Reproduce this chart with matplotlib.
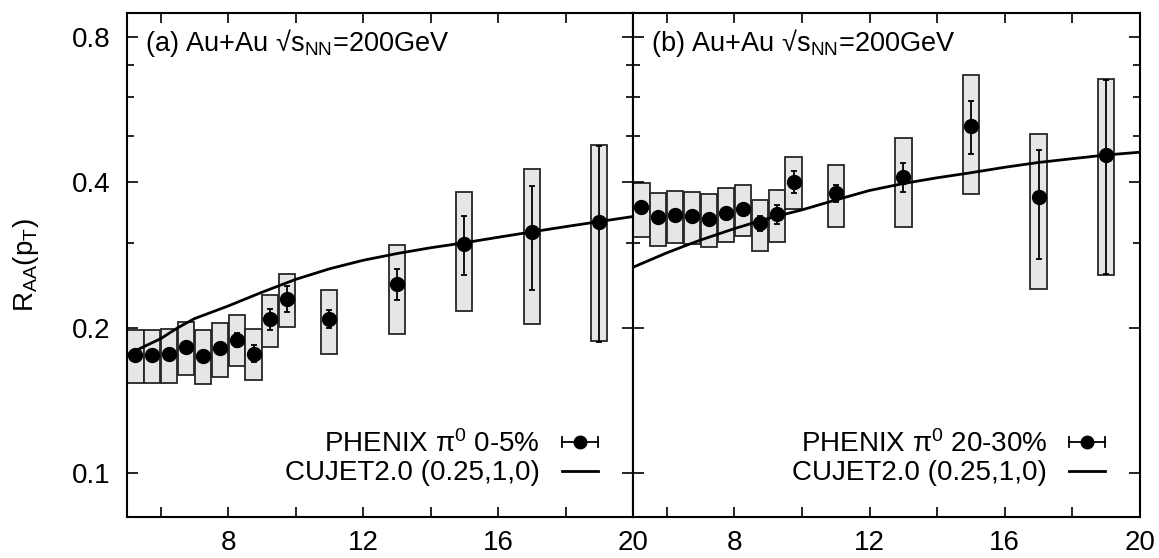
import matplotlib
matplotlib.use("Agg")
import matplotlib.pyplot as plt
import numpy as np
from matplotlib.lines import Line2D
from matplotlib.legend_handler import HandlerBase
from matplotlib.ticker import FixedLocator, NullFormatter, FixedFormatter

plt.rcParams['font.family'] = ['Liberation Sans', 'DejaVu Sans']
plt.rcParams['mathtext.default'] = 'regular'

# ---------------- data ----------------
pt = [5.25, 5.75, 6.25, 6.75, 7.25, 7.75, 8.25, 8.75, 9.25, 9.75, 11, 13, 15, 17, 19]

# (a) PHENIX pi0 0-5%
raa_a = [0.176, 0.176, 0.177, 0.183, 0.175, 0.182, 0.189, 0.177, 0.2085, 0.2296,
         0.2085, 0.2464, 0.299, 0.316, 0.332]
stat_a = [0.004, 0.004, 0.004, 0.004, 0.004, 0.004, 0.006, 0.007, 0.0105, 0.014,
          0.009, 0.0185, 0.042, 0.077, 0.145]
sys_hi_a = [0.198, 0.198, 0.199, 0.206, 0.198, 0.205, 0.213, 0.199, 0.234, 0.2585,
            0.2397, 0.297, 0.383, 0.427, 0.4776]
sys_lo_a = [0.1536, 0.154, 0.154, 0.160, 0.153, 0.158, 0.167, 0.156, 0.183, 0.2004,
            0.177, 0.1945, 0.2163, 0.2037, 0.188]

# (b) PHENIX pi0 20-30%
raa_b = [0.3555, 0.3389, 0.3426, 0.3408, 0.3361, 0.3464, 0.3525, 0.3293, 0.3438, 0.4015,
         0.380, 0.411, 0.524, 0.373, 0.456]
stat_b = [0.005, 0.005, 0.005, 0.005, 0.005, 0.005, 0.005, 0.012, 0.0155, 0.021,
          0.0155, 0.028, 0.065, 0.095, 0.197]
sys_hi_b = [0.3985, 0.381, 0.3847, 0.382, 0.3788, 0.390, 0.3953, 0.368, 0.3862, 0.4524,
            0.4354, 0.495, 0.6676, 0.505, 0.654]
sys_lo_b = [0.309, 0.296, 0.2994, 0.298, 0.2938, 0.3017, 0.310, 0.2886, 0.3017, 0.352,
            0.323, 0.324, 0.3777, 0.2405, 0.2578]

# CUJET2.0 (0.25,1,0) curves
curve_x = [5, 6, 6.5, 7, 8, 9, 10, 11, 12, 13, 14, 15, 16, 17, 18, 19, 20]
curve_a = [0.176, 0.190, 0.200, 0.209, 0.222, 0.237, 0.252, 0.265, 0.276, 0.285,
           0.293, 0.300, 0.308, 0.316, 0.324, 0.332, 0.340]
curve_b = [0.267, 0.286, 0.295, 0.304, 0.321, 0.337, 0.351, 0.368, 0.385, 0.398,
           0.409, 0.419, 0.430, 0.440, 0.448, 0.456, 0.462]

titles = ["(a) Au+Au \u221as$_{NN}$=200GeV", "(b) Au+Au \u221as$_{NN}$=200GeV"]
leg_data = ["PHENIX \u03c0$^{0}$ 0-5%", "PHENIX \u03c0$^{0}$ 20-30%"]
leg_curve = "CUJET2.0 (0.25,1,0)"
ylabel = "R$_{AA}$(p$_{T}$)"
xticks_major = [8, 12, 16, 20]
xticks_minor = [6, 10, 14, 18]
yticks_major = [0.1, 0.2, 0.4, 0.8]
yticks_minor = [0.3, 0.5, 0.6, 0.7]

FS = 20
FS_TITLE = 19.5
BOX_HALF = 0.24


class HandlerHErr(HandlerBase):
    def create_artists(self, legend, orig_handle, xdescent, ydescent, width, height,
                       fontsize, trans):
        y = height / 2 - ydescent
        x0 = -xdescent
        x1 = -xdescent + width
        c = 3.5
        arts = [
            Line2D([x0, x1], [y, y], color='k', lw=1.3),
            Line2D([x0, x0], [y - c, y + c], color='k', lw=1.3),
            Line2D([x1, x1], [y - c, y + c], color='k', lw=1.3),
            Line2D([(x0 + x1) / 2], [y], marker='o', ms=9, color='k', lw=0),
        ]
        for a in arts:
            a.set_transform(trans)
        return arts


W, H = 1159, 558
fig = plt.figure(figsize=(W / 100, H / 100), dpi=100)
left0, right0, right1 = 127 / W, 633 / W, 1140 / W
bot, top = 1 - 517 / H, 1 - 13 / H
axA = fig.add_axes([left0, bot, right0 - left0, top - bot])
axB = fig.add_axes([right0, bot, right1 - right0, top - bot])

sets = [
    (axA, raa_a, stat_a, sys_lo_a, sys_hi_a, curve_a, titles[0], leg_data[0]),
    (axB, raa_b, stat_b, sys_lo_b, sys_hi_b, curve_b, titles[1], leg_data[1]),
]

for i, (ax, raa, stat, slo, shi, curve, title, ldat) in enumerate(sets):
    lo = np.array(slo)
    hi = np.array(shi)
    ax.bar(pt, hi - lo, bottom=lo, width=2 * BOX_HALF, color='#e6e6e6',
           edgecolor='#262626', linewidth=1.3, zorder=1)
    ax.plot(curve_x, curve, color='k', lw=2.0, zorder=2)
    ax.errorbar(pt, raa, yerr=stat, fmt='o', color='k', ms=10, capsize=2.5,
                elinewidth=1.3, capthick=1.3, zorder=3)
    ax.set_yscale('log')
    ax.set_xlim(5, 20)
    ax.set_ylim(0.0812, 0.897)
    ax.yaxis.set_major_locator(FixedLocator(yticks_major))
    ax.yaxis.set_minor_locator(FixedLocator(yticks_minor))
    ax.yaxis.set_minor_formatter(NullFormatter())
    ax.xaxis.set_major_locator(FixedLocator(xticks_major))
    ax.xaxis.set_minor_locator(FixedLocator(xticks_minor))
    ax.tick_params(which='both', direction='in', top=True, right=True,
                   labelsize=FS, width=1.2)
    ax.tick_params(axis='y', which='major', length=8, pad=12)
    ax.tick_params(axis='y', which='minor', length=5)
    ax.tick_params(axis='x', which='both', length=7, pad=9)
    if i == 0:
        ax.yaxis.set_major_formatter(FixedFormatter([str(v) for v in yticks_major]))
    else:
        ax.tick_params(axis='y', which='both', labelleft=False)
    for s in ax.spines.values():
        s.set_linewidth(1.5)
    ax.text(0.036, 0.94, title, transform=ax.transAxes, fontsize=FS_TITLE,
            ha='left', va='center')
    h1 = Line2D([], [], color='k')
    h2 = Line2D([], [], color='k', lw=2.0)
    ax.legend([h1, h2], [ldat, leg_curve], handler_map={h1: HandlerHErr()},
              loc='lower right', bbox_to_anchor=(0.97, 0.022), frameon=False,
              markerfirst=False, fontsize=FS, handlelength=1.3,
              handletextpad=0.8, labelspacing=0.1, borderpad=0.2)

axA.set_ylabel(ylabel, fontsize=FS, labelpad=22)

fig.savefig("out.png", dpi=100)
